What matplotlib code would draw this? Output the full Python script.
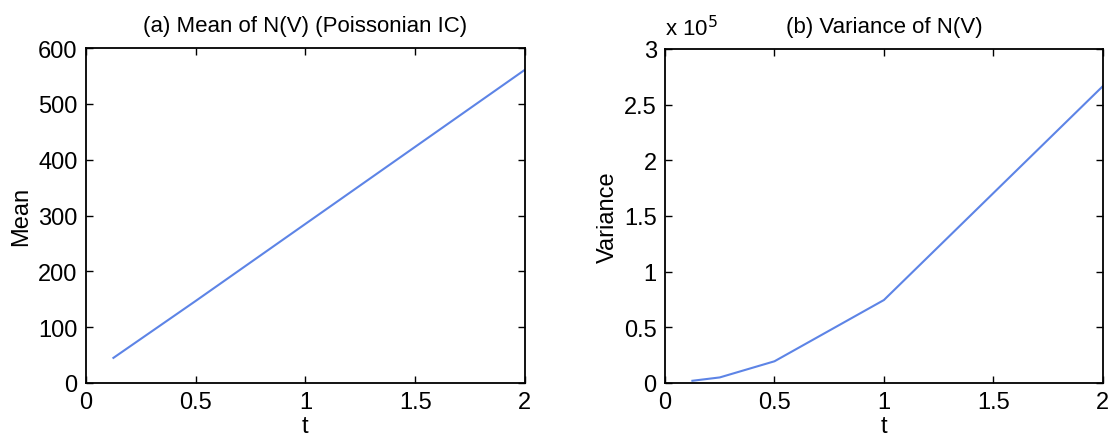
import numpy as np
import matplotlib
matplotlib.use('Agg')
import matplotlib.pyplot as plt
from matplotlib.ticker import FuncFormatter

matplotlib.rcParams['font.family'] = ['Liberation Sans', 'DejaVu Sans']

# 데이터
t_vals = [0.125, 0.25, 0.5, 1.0, 2.0]
mean_vals = [45, 79, 147, 285, 561]
var_vals = [2000, 5000, 19500, 74500, 266500]

LINE_COLOR = '#5d84e6'


def style_axes(ax):
    ax.tick_params(direction='in', top=True, right=True, length=5,
                   width=1.0, labelsize=17, pad=6)
    for sp in ax.spines.values():
        sp.set_linewidth(1.3)
    ax.xaxis.set_major_formatter(FuncFormatter(lambda v, p: f'{v:g}'))


fig = plt.figure(figsize=(11.11, 4.39), dpi=100)

# ── (a) Mean ─────────────────────────────────────────
ax1 = fig.add_axes([0.0774, 0.1253, 0.395, 0.763])
ax1.plot(t_vals, mean_vals, color=LINE_COLOR, linewidth=1.5)
ax1.set_xlim(0, 2)
ax1.set_ylim(0, 600)
ax1.set_xticks([0, 0.5, 1, 1.5, 2])
ax1.set_yticks(range(0, 601, 100))
style_axes(ax1)
ax1.set_xlabel('t', fontsize=17, labelpad=1)
ax1.set_ylabel('Mean', fontsize=17, labelpad=4)
ax1.set_title('(a) Mean of N(V) (Poissonian IC)', fontsize=16, pad=12)

# ── (b) Variance ─────────────────────────────────────
ax2 = fig.add_axes([0.5986, 0.1253, 0.394, 0.761])
ax2.plot(t_vals, var_vals, color=LINE_COLOR, linewidth=1.5)
ax2.set_xlim(0, 2)
ax2.set_ylim(0, 3e5)
ax2.set_xticks([0, 0.5, 1, 1.5, 2])
ax2.set_yticks(np.arange(0, 3.01e5, 0.5e5))
style_axes(ax2)
ax2.yaxis.set_major_formatter(FuncFormatter(lambda v, p: f'{v / 1e5:g}'))
ax2.set_xlabel('t', fontsize=17, labelpad=1)
ax2.set_ylabel('Variance', fontsize=17, labelpad=4)
ax2.set_title('(b) Variance of N(V)', fontsize=16, pad=12)
ax2.text(0.0, 1.025, r'x 10$^5$', transform=ax2.transAxes, fontsize=16,
         ha='left', va='bottom')

fig.savefig('out.png', dpi=100)
